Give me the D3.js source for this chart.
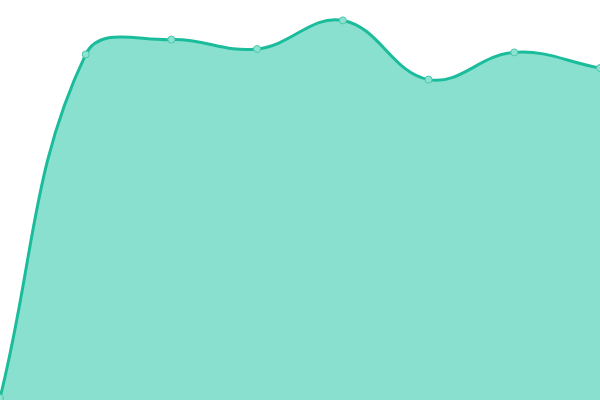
<!DOCTYPE html>
<html>
<head>
<meta charset="utf-8">
<script src="https://cdn.jsdelivr.net/npm/d3@7"></script>
<style>
  html, body { margin: 0; padding: 0; background: #fff; }
  svg { display: block; }
</style>
</head>
<body>
<div id="chart"></div>
<script>
// values
var labels = [1, 2, 3, 4, 5, 6, 7, 8]
var values = [0.5, 86.4, 90.1, 87.75, 94.9, 80.1, 86.9, 83.0]

var width = 600
var height = 400
var tension = 0.4

var svg = d3.select('#chart')
    .append('svg')
    .attr('width', width)
    .attr('height', height)

var x = d3.scalePoint()
    .domain(labels)
    .range([0, width])

var y = d3.scaleLinear()
    .domain([0, 100])
    .range([height, 0])

var pts = labels.map(function (d, i) { return [x(d), y(values[i])] })

// spline with control points along the neighbour direction (tension 0.4)
function splinePath(p, path) {
    var ctrl = p.map(function (cur, i) {
        var prev = p[Math.max(i - 1, 0)]
        var next = p[Math.min(i + 1, p.length - 1)]
        var d01 = Math.hypot(cur[0] - prev[0], cur[1] - prev[1])
        var d12 = Math.hypot(next[0] - cur[0], next[1] - cur[1])
        var s01 = d01 / (d01 + d12) || 0
        var s12 = d12 / (d01 + d12) || 0
        var fa = tension * s01, fb = tension * s12
        var dx = next[0] - prev[0], dy = next[1] - prev[1]
        var clampY = function (v) { return Math.max(0, Math.min(height, v)) }
        var clampX = function (v) { return Math.max(0, Math.min(width, v)) }
        return {
            prev: [clampX(cur[0] - fa * dx), clampY(cur[1] - fa * dy)],
            next: [clampX(cur[0] + fb * dx), clampY(cur[1] + fb * dy)]
        }
    })
    path.moveTo(p[0][0], p[0][1])
    for (var i = 1; i < p.length; i++) {
        path.bezierCurveTo(ctrl[i - 1].next[0], ctrl[i - 1].next[1],
            ctrl[i].prev[0], ctrl[i].prev[1], p[i][0], p[i][1])
    }
    return path
}

var areaPath = splinePath(pts, d3.path())
areaPath.lineTo(pts[pts.length - 1][0], y(0))
areaPath.lineTo(pts[0][0], y(0))
areaPath.closePath()

svg.append('path')
    .attr('d', areaPath.toString())
    .style('fill', '#89e0cf')

svg.append('path')
    .attr('d', splinePath(pts, d3.path()).toString())
    .style('fill', 'none')
    .attr('stroke', '#1abc9c')
    .style('stroke-width', '3px')

svg.selectAll('circle')
    .data(pts)
    .enter()
    .append('circle')
    .attr('cx', function (d) { return d[0] })
    .attr('cy', function (d) { return d[1] })
    .attr('r', 3.5)
    .style('fill', '#8de2d0')
    .attr('stroke', '#4cc8ac')
    .style('stroke-width', '1px')
</script>
</body>
</html>
